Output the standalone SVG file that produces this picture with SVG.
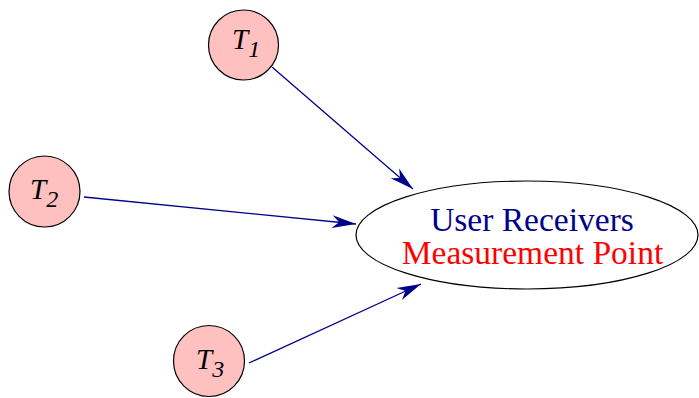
<svg xmlns="http://www.w3.org/2000/svg" width="699" height="398" viewBox="0 0 699 398">
<style>
.node circle{fill:#ffc0c0;stroke:#000;stroke-width:1.2}
.tl{font-family:"Liberation Serif",serif;font-style:italic;font-size:29px;fill:#000}
.sub{font-size:24px}
.edge{stroke:#00008b;stroke-width:1.3;fill:none;marker-end:url(#ah)}
.big{font-family:"Liberation Serif",serif;font-size:33.5px;text-anchor:middle}
</style>
<defs>
<marker id="ah" markerUnits="userSpaceOnUse" markerWidth="30" markerHeight="20" refX="0" refY="0" viewBox="-24 -10 26 20" orient="auto" overflow="visible">
<path d="M0,0 L-24,-6.5 L-17,0 L-24,6.5 Z" fill="#00008b"/>
</marker>
</defs>
<rect width="699" height="398" fill="#fff"/>
<g id="edges">
<line class="edge" x1="272" y1="67" x2="413" y2="189"/>
<line class="edge" x1="84" y1="197" x2="356" y2="224"/>
<line class="edge" x1="249" y1="363" x2="421" y2="284"/>
</g>
<g id="T1" class="node">
<circle cx="243.5" cy="45" r="35"/>
<text class="tl" x="232" y="49">T<tspan class="sub" dy="8">1</tspan></text>
</g>
<g id="T2" class="node">
<circle cx="44.5" cy="191.5" r="35.5"/>
<text class="tl" x="30" y="199">T<tspan class="sub" dy="8">2</tspan></text>
</g>
<g id="T3" class="node">
<circle cx="209" cy="361" r="35.5"/>
<text class="tl" x="196" y="369">T<tspan class="sub" dy="8">3</tspan></text>
</g>
<g id="receiver">
<ellipse cx="527" cy="235" rx="171" ry="54" fill="#fff" stroke="#000" stroke-width="1.2"/>
<text class="big" x="532" y="231" fill="#00008b">User Receivers</text>
<text class="big" x="532.5" y="264" fill="#ff0000">Measurement Point</text>
</g>
</svg>
